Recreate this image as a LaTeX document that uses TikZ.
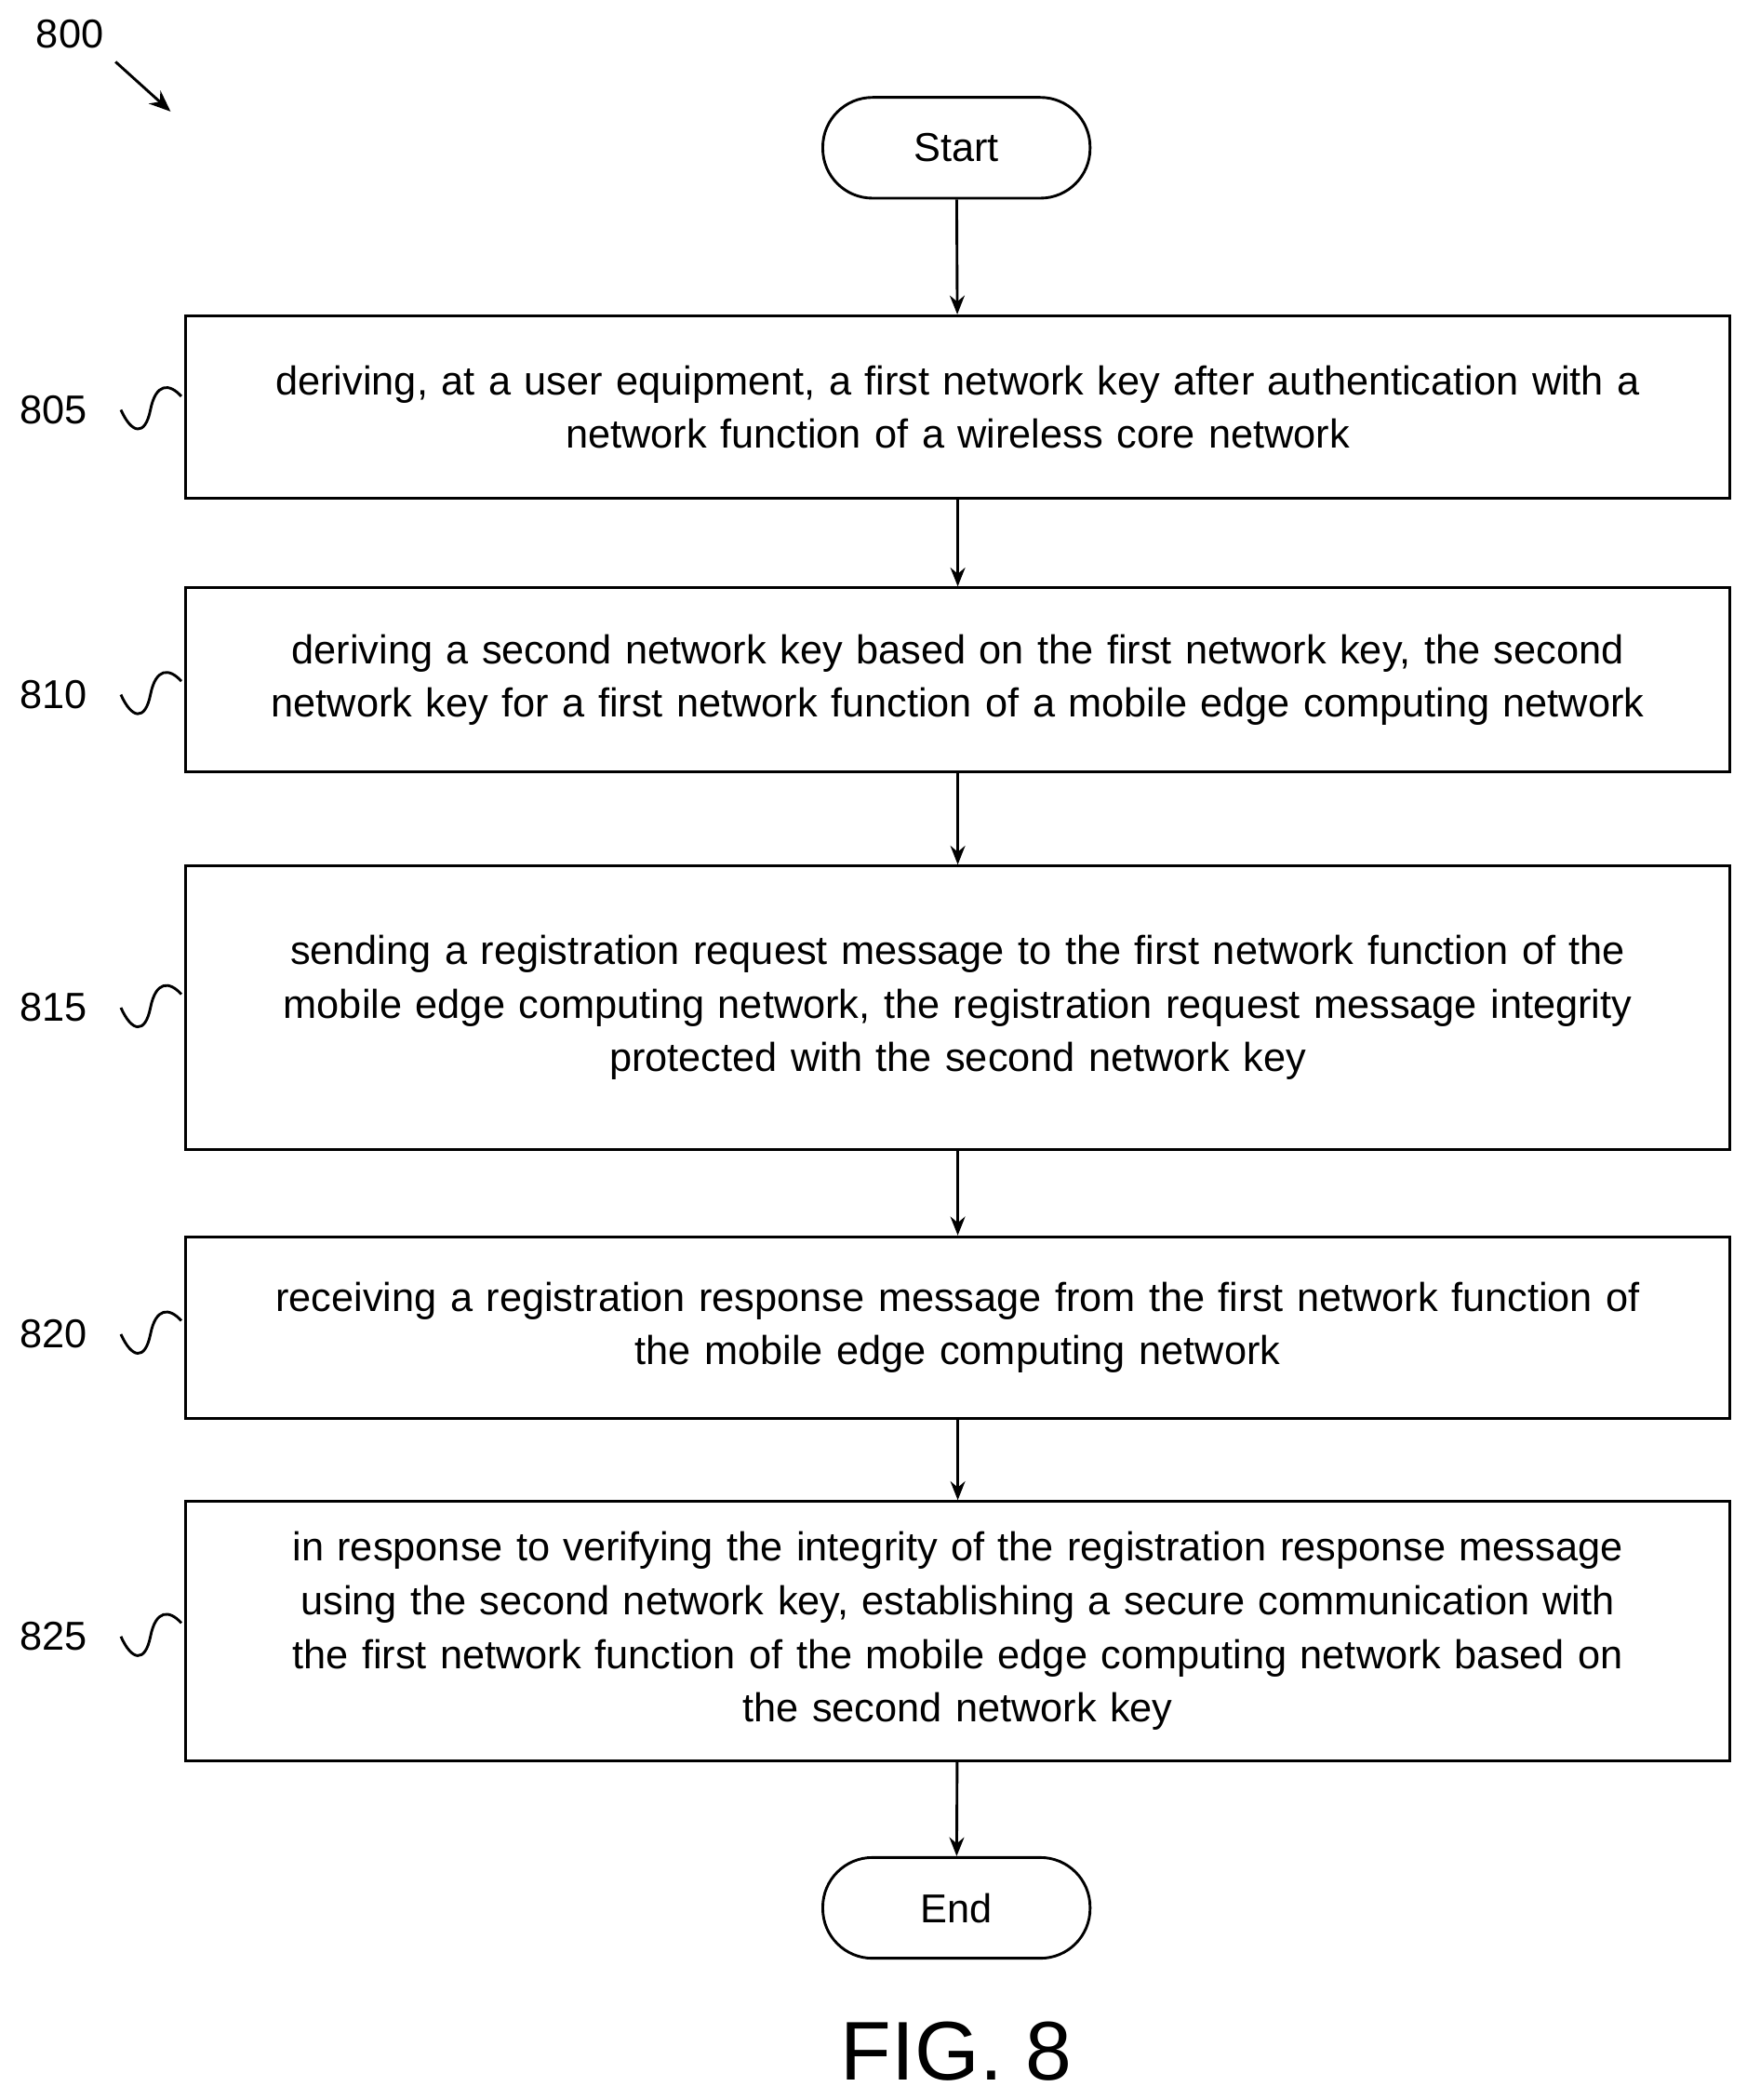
\documentclass[tikz,border=0pt]{standalone}
\usepackage{fontspec}
\setmainfont{Liberation Sans}
\usetikzlibrary{arrows.meta}
\begin{document}
\begin{tikzpicture}[x=1pt,y=-1pt,
  box/.style={draw,line width=2pt,minimum width=1150pt,text width=1140pt,align=center,font=\fontsize{30}{40}\selectfont,inner sep=0pt},
  term/.style={draw,line width=2pt,rounded corners=37pt,minimum width=199pt,minimum height=75pt,font=\fontsize{30}{34}\selectfont},
  arr/.style={line width=2pt,-{Stealth[length=14pt,width=11pt]}},
  lab/.style={font=\fontsize{30}{34}\selectfont},
  sq/.style={line width=2pt}]
\useasboundingbox (0,0) rectangle (1300,1563);
\node[term] (s) at (712,110) {Start};
\node[box,minimum height=136pt] (b1) at (713,303) {deriving, at a user equipment, a first network key after authentication with a\\ network function of a wireless core network};
\node[box,minimum height=137pt] (b2) at (713,506) {deriving a second network key based on the first network key, the second\\ network key for a first network function of a mobile edge computing network};
\node[box,minimum height=211pt] (b3) at (713,750) {sending a registration request message to the first network function of the\\ mobile edge computing network, the registration request message integrity\\ protected with the second network key};
\node[box,minimum height=135pt] (b4) at (713,988) {receiving a registration response message from the first network function of\\ the mobile edge computing network};
\node[box,minimum height=193pt] (b5) at (713,1214) {in response to verifying the integrity of the registration response message\\ using the second network key, establishing a secure communication with\\ the first network function of the mobile edge computing network based on\\ the second network key};
\node[term] (e) at (712,1420) {End};
\draw[arr] (s) -- (b1);
\draw[arr] (b1) -- (b2);
\draw[arr] (b2) -- (b3);
\draw[arr] (b3) -- (b4);
\draw[arr] (b4) -- (b5);
\draw[arr] (b5) -- (e);
\foreach \n/\y in {805/305,810/517,815/750,820/993,825/1218}{
  \node[lab] (l\n) at (40,\y) {\n};
  \draw[sq] (90,\y) .. controls (98,\y+18) and (108,\y+20) .. (112,\y) .. controls (116,\y-20) and (126,\y-20) .. (135,\y-10);
}
\node[lab] (n800) at (52,25) {800};
\coordinate (a800) at (127,83);
\draw[line width=2pt,-{Stealth[length=16pt,width=13pt]}] (86,46) -- (a800);
\node[font=\fontsize{62}{70}\selectfont] (fig) at (712,1527) {FIG. 8};
\end{tikzpicture}
\end{document}
